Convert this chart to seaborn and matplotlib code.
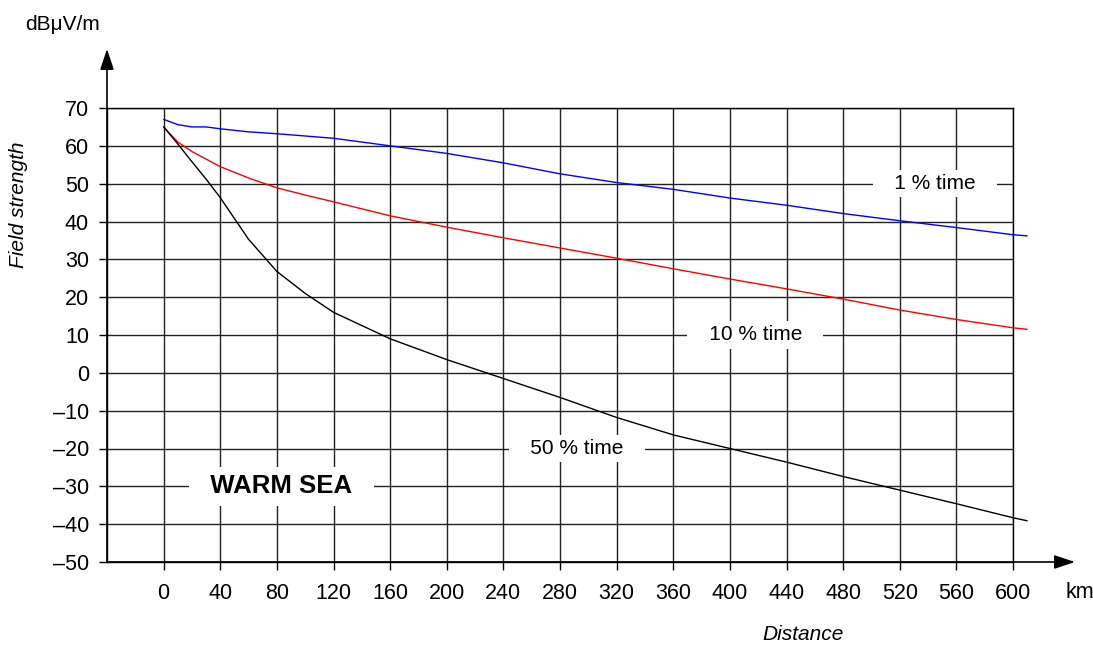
import numpy as np
import pandas as pd
import seaborn as sns
import matplotlib.pyplot as plt

# distance (km) and field strength (dBuV/m)
dist = [0, 10, 20, 30, 40, 60, 80, 100, 120, 160, 200, 240, 280, 320, 360,
        400, 440, 480, 520, 560, 600, 610]
time_1 = [67.0, 65.6, 65.0, 65.0, 64.5, 63.7, 63.2, 62.6, 62.0, 60.0, 58.0,
          55.5, 52.6, 50.3, 48.5, 46.2, 44.3, 42.1, 40.2, 38.4, 36.5, 36.2]
time_10 = [65.0, 61.0, 58.5, 56.5, 54.5, 51.5, 48.9, 47.0, 45.2, 41.5, 38.5,
           35.7, 33.0, 30.3, 27.5, 24.8, 22.2, 19.5, 16.6, 14.1, 11.9, 11.5]
time_50 = [65.0, 60.5, 55.8, 51.2, 46.3, 35.3, 26.8, 21.0, 16.0, 9.0, 3.5,
           -1.5, -6.5, -11.8, -16.4, -20.0, -23.6, -27.4, -31.0, -34.6,
           -38.3, -39.1]
series_names = ["1 % time", "10 % time", "50 % time"]
series_colors = ["blue", "red", "black"]

x_ticks = list(range(0, 601, 40))
y_ticks = list(range(-50, 71, 10))

df = pd.concat([
    pd.DataFrame({"dist": dist, "field": vals, "series": name})
    for name, vals in zip(series_names, [time_1, time_10, time_50])
])

sns.set_style("white")
plt.rcParams["font.family"] = ["Liberation Sans", "DejaVu Sans"]
for key in ["text.color", "axes.labelcolor", "xtick.color", "ytick.color"]:
    plt.rcParams[key] = "black"

W, H = 1093, 646
fig = plt.figure(figsize=(W / 100, H / 100), dpi=100)
ax = fig.add_axes([107 / W, 84 / H, 906 / W, 454 / H])

sns.lineplot(data=df, x="dist", y="field", hue="series",
             palette=dict(zip(series_names, series_colors)),
             estimator=None, sort=False, legend=False, linewidth=1.0,
             ax=ax, clip_on=False, zorder=3)

ax.set_xlim(-40, 600)
ax.set_ylim(-50, 70)
ax.set_xticks(x_ticks)
ax.set_yticks(y_ticks)
ax.set_yticklabels([str(v).replace("-", "\u2013") for v in y_ticks])
ax.set_xlabel("")
ax.set_ylabel("")
ax.grid(True, color="#222222", linewidth=1.0)
ax.set_axisbelow(True)
for s in ax.spines.values():
    s.set_color("black")
    s.set_linewidth(1.0)
ax.tick_params(axis="both", direction="out", length=6, width=1.0,
               color="black", labelcolor="black", labelsize=15.5,
               bottom=True, left=True)
ax.tick_params(axis="x", pad=9)
ax.tick_params(axis="y", pad=7)

# axis arrows
arrow = dict(arrowstyle="-|>,head_length=0.9,head_width=0.3",
             color="black", lw=1.2, mutation_scale=14, shrinkA=0, shrinkB=0)
ax.annotate("", xy=(1.0684, 0), xytext=(0, 0), xycoords="axes fraction",
            arrowprops=arrow, annotation_clip=False)
ax.annotate("", xy=(0, 1.13), xytext=(0, 0), xycoords="axes fraction",
            arrowprops=arrow, annotation_clip=False)

# curve labels with white boxes
box = dict(boxstyle="square,pad=0.2", fc="white", ec="none")
ax.text(545, 50, "   1 % time   ", fontsize=15, ha="center", va="center",
        bbox=box, zorder=4)
ax.text(418, 10, "   10 % time   ", fontsize=15, ha="center", va="center",
        bbox=box, zorder=4)
ax.text(292, -20, "   50 % time   ", fontsize=15, ha="center", va="center",
        bbox=box, zorder=4)
ax.text(83, -30, "  WARM SEA  ", fontsize=18.5, fontweight="bold",
        ha="center", va="center", bbox=dict(boxstyle="square,pad=0.3",
                                            fc="white", ec="none"), zorder=4)

fig.text(62 / W, 1 - 25 / H, "dB\u03bcV/m", fontsize=15, ha="center",
         va="center")
fig.text(19 / W, 1 - 205 / H, "Field strength", fontsize=15,
         style="italic", rotation=90, ha="center", va="center")
fig.text(803 / W, 1 - 635 / H, "Distance", fontsize=15, style="italic",
         ha="center", va="center")
fig.text(1080 / W, 1 - 592 / H, "km", fontsize=15.5, ha="center",
         va="center")

fig.savefig("out.png", dpi=100)
